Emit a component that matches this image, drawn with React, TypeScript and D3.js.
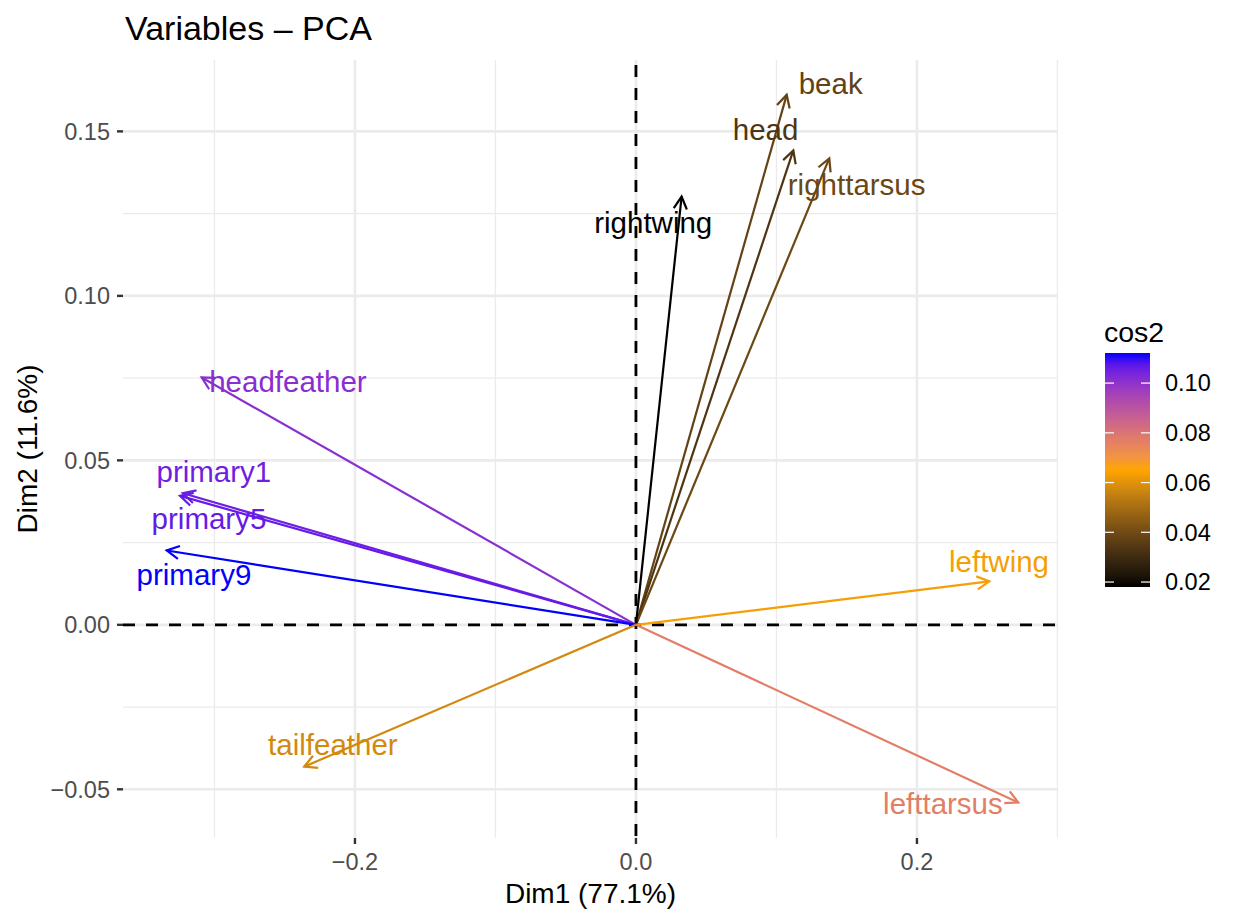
import React from "react";
import * as d3 from "d3";

const variables = ["beak", "head", "righttarsus", "rightwing", "headfeather", "primary1", "primary5", "primary9", "leftwing", "lefttarsus", "tailfeather"];
const dim1 = [0.1073, 0.112, 0.1376, 0.0325, -0.3091, -0.3225, -0.3245, -0.334, 0.2515, 0.2721, -0.2361];
const dim2 = [0.1611, 0.1442, 0.1418, 0.1302, 0.0752, 0.04, 0.0392, 0.0226, 0.0132, -0.054, -0.0431];
const cos2 = [0.0375, 0.0333, 0.039, 0.018, 0.1012, 0.1053, 0.1065, 0.1121, 0.0634, 0.0769, 0.0576];
const labelX = [0.1386, 0.0923, 0.1571, 0.0123, -0.2477, -0.3004, -0.3039, -0.3146, 0.2584, 0.2185, -0.2157];
const labelY = [0.1645, 0.1505, 0.1339, 0.1224, 0.0738, 0.0465, 0.0323, 0.0151, 0.0191, -0.0543, -0.0365];

const xMajor = [-0.2, 0.0, 0.2];
const xMinor = [-0.3, -0.1, 0.1, 0.3];
const yMajor = [-0.05, 0.0, 0.05, 0.1, 0.15];
const yMinor = [-0.025, 0.025, 0.075, 0.125];
const xTickLabels = ["\u22120.2", "0.0", "0.2"];
const yTickLabels = ["\u22120.05", "0.00", "0.05", "0.10", "0.15"];
const legendTicks = [0.02, 0.04, 0.06, 0.08, 0.1];
const legendTickLabels = ["0.02", "0.04", "0.06", "0.08", "0.10"];
const gradientColors = ["black", "orange", "blue"];

const FONT = "'Liberation Sans', Arial, Helvetica, sans-serif";

export default function App() {
  const W = 1235, H = 915;
  const panel = { left: 123, right: 1058, top: 60, bottom: 838 };
  const x = d3.scaleLinear().domain([-0.3651, 0.3004]).range([panel.left, panel.right]);
  const y = d3.scaleLinear().domain([-0.0648, 0.1717]).range([panel.bottom, panel.top]);
  const cMin = d3.min(cos2) as number;
  const cMax = d3.max(cos2) as number;
  const color = d3
    .scaleLinear<string>()
    .domain([cMin, (cMin + cMax) / 2, cMax])
    .range(gradientColors)
    .interpolate(d3.interpolateLab);

  const leg = { left: 1105, right: 1150, top: 353, bottom: 587 };
  const ly = d3.scaleLinear().domain([cMin, cMax]).range([leg.bottom, leg.top]);
  const stops = d3.range(0, 21).map((i) => cMin + ((cMax - cMin) * i) / 20);

  const headLen = 14;
  const headAng = (28 * Math.PI) / 180;

  return (
    <svg width={W} height={H} style={{ display: "block", position: "absolute", left: 0, top: 0, background: "white" }}>
      <defs>
        <linearGradient id="cbar" x1="0" y1="1" x2="0" y2="0">
          {stops.map((s, i) => (
            <stop key={i} offset={`${(i / 20) * 100}%`} stopColor={color(s)} />
          ))}
        </linearGradient>
      </defs>
      <rect x={0} y={0} width={W} height={H} fill="white" />
      {/* grid */}
      {xMinor.map((v) => (
        <line key={"xm" + v} x1={x(v)} x2={x(v)} y1={panel.top} y2={panel.bottom} stroke="#ebebeb" strokeWidth={1.3} />
      ))}
      {yMinor.map((v) => (
        <line key={"ym" + v} x1={panel.left} x2={panel.right} y1={y(v)} y2={y(v)} stroke="#ebebeb" strokeWidth={1.3} />
      ))}
      {xMajor.map((v) => (
        <line key={"xM" + v} x1={x(v)} x2={x(v)} y1={panel.top} y2={panel.bottom} stroke="#ebebeb" strokeWidth={2.6} />
      ))}
      {yMajor.map((v) => (
        <line key={"yM" + v} x1={panel.left} x2={panel.right} y1={y(v)} y2={y(v)} stroke="#ebebeb" strokeWidth={2.6} />
      ))}
      {/* dashed zero lines */}
      <line x1={panel.left} x2={panel.right} y1={y(0)} y2={y(0)} stroke="black" strokeWidth={2.8} strokeDasharray="12 11" />
      <line x1={x(0)} x2={x(0)} y1={panel.top + 5} y2={panel.bottom} stroke="black" strokeWidth={2.8} strokeDasharray="12 11" />
      {/* arrows */}
      {variables.map((name, i) => {
        const x0 = x(0), y0 = y(0), x1 = x(dim1[i]), y1 = y(dim2[i]);
        const a = Math.atan2(y1 - y0, x1 - x0);
        const c = color(cos2[i]);
        const p1 = [x1 - headLen * Math.cos(a - headAng), y1 - headLen * Math.sin(a - headAng)];
        const p2 = [x1 - headLen * Math.cos(a + headAng), y1 - headLen * Math.sin(a + headAng)];
        return (
          <g key={name}>
            <line x1={x0} y1={y0} x2={x1} y2={y1} stroke={c} strokeWidth={2.2} />
            <polyline points={`${p1[0]},${p1[1]} ${x1},${y1} ${p2[0]},${p2[1]}`} fill="none" stroke={c} strokeWidth={2.2} />
          </g>
        );
      })}
      {variables.map((name, i) => (
        <text key={"l" + name} x={x(labelX[i])} y={y(labelY[i])} dy="0.35em" textAnchor="middle" fontFamily={FONT} fontSize={29.5} fill={color(cos2[i])}>
          {name}
        </text>
      ))}
      {/* axes ticks */}
      {xMajor.map((v, i) => (
        <g key={"xt" + v}>
          <line x1={x(v)} x2={x(v)} y1={panel.bottom} y2={panel.bottom + 6} stroke="#333" strokeWidth={2.4} />
          <text x={x(v)} y={861.5} dy="0.35em" textAnchor="middle" fontFamily={FONT} fontSize={23.5} fill="#4d4d4d">
            {xTickLabels[i]}
          </text>
        </g>
      ))}
      {yMajor.map((v, i) => (
        <g key={"yt" + v}>
          <line x1={panel.left - 6} x2={panel.left} y1={y(v)} y2={y(v)} stroke="#333" strokeWidth={2.4} />
          <text x={110} y={y(v)} dy="0.35em" textAnchor="end" fontFamily={FONT} fontSize={23.5} fill="#4d4d4d">
            {yTickLabels[i]}
          </text>
        </g>
      ))}
      {/* titles */}
      <text x={125} y={39.5} fontFamily={FONT} fontSize={34} fill="black">
        Variables {"\u2013"} PCA
      </text>
      <text x={(panel.left + panel.right) / 2} y={893} dy="0.35em" textAnchor="middle" fontFamily={FONT} fontSize={28} fill="black">
        Dim1 (77.1%)
      </text>
      <text transform={`translate(27.5,${(panel.top + panel.bottom) / 2}) rotate(-90)`} dy="0.35em" textAnchor="middle" fontFamily={FONT} fontSize={28} fill="black">
        Dim2 (11.6%)
      </text>
      {/* legend */}
      <text x={1104} y={331.7} dy="0.35em" fontFamily={FONT} fontSize={28.5} fill="black">
        cos2
      </text>
      <rect x={leg.left} y={leg.top} width={leg.right - leg.left} height={leg.bottom - leg.top} fill="url(#cbar)" />
      {legendTicks.map((v, i) => (
        <g key={"lt" + v}>
          <line x1={leg.left} x2={leg.left + 9} y1={ly(v)} y2={ly(v)} stroke="white" strokeWidth={1.2} />
          <line x1={leg.right - 9} x2={leg.right} y1={ly(v)} y2={ly(v)} stroke="white" strokeWidth={1.2} />
          <text x={1165} y={ly(v)} dy="0.35em" fontFamily={FONT} fontSize={23.5} fill="black">
            {legendTickLabels[i]}
          </text>
        </g>
      ))}
    </svg>
  );
}
